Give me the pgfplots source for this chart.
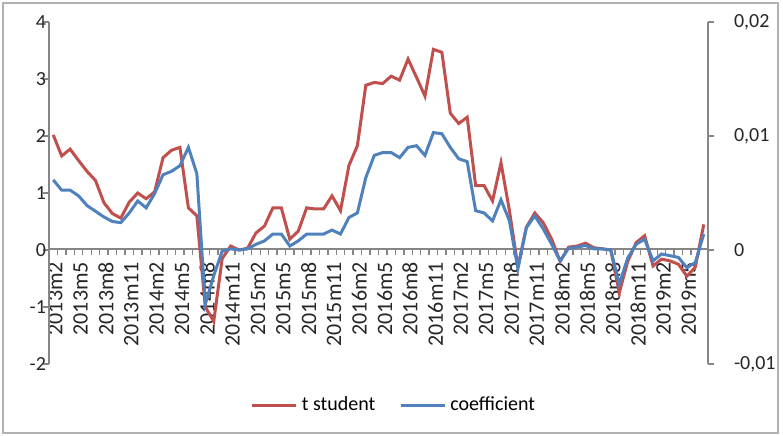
\documentclass[border=0pt]{standalone}
\usepackage{pgfplots}
\usepackage{pgfplotstable}
\pgfplotsset{compat=1.18}
\usepackage{fontspec}
\setmainfont{Carlito}
\definecolor{tred}{RGB}{192,80,77}
\definecolor{cblue}{RGB}{79,129,189}
\definecolor{axgray}{RGB}{134,134,134}

\pgfplotstableread{
idx t coef
0 2.02 0.00615
1 1.65 0.00525
2 1.77 0.00525
3 1.57 0.00475
4 1.38 0.0039
5 1.22 0.0034
6 0.83 0.0029
7 0.64 0.0025
8 0.56 0.0024
9 0.84 0.00325
10 1.00 0.0043
11 0.90 0.0037
12 1.02 0.00495
13 1.62 0.0066
14 1.75 0.0069
15 1.80 0.0074
16 0.74 0.0090
17 0.60 0.0067
18 -1.00 -0.00475
19 -1.25 -0.00225
20 -0.15 -0.0001
21 0.07 0.0001
22 0.00 0.0
23 0.03 0.0001
24 0.30 0.0005
25 0.42 0.0008
26 0.74 0.0014
27 0.74 0.0014
28 0.19 0.00035
29 0.33 0.0008
30 0.74 0.0014
31 0.72 0.0014
32 0.72 0.0014
33 0.95 0.00175
34 0.69 0.0014
35 1.48 0.00285
36 1.83 0.00325
37 2.89 0.00635
38 2.94 0.0083
39 2.92 0.00855
40 3.05 0.00855
41 2.98 0.0081
42 3.35 0.0090
43 3.03 0.00915
44 2.70 0.0083
45 3.52 0.0103
46 3.47 0.0102
47 2.40 0.0090
48 2.22 0.0080
49 2.33 0.00775
50 1.13 0.00345
51 1.13 0.00325
52 0.86 0.00255
53 1.53 0.0044
54 0.69 0.00255
55 -0.30 -0.00165
56 0.40 0.00195
57 0.65 0.0030
58 0.48 0.00185
59 0.19 0.0005
60 -0.20 -0.00095
61 0.05 0.00015
62 0.07 0.00025
63 0.12 0.0004
64 0.04 0.0001
65 0.02 0.0001
66 0.00 0.0
67 -0.75 -0.0030
68 -0.20 -0.0007
69 0.13 0.0005
70 0.25 0.00095
71 -0.28 -0.00095
72 -0.16 -0.00035
73 -0.19 -0.0005
74 -0.25 -0.00065
75 -0.46 -0.00155
76 -0.30 -0.0011
77 0.45 0.0014
}\datatable

\begin{document}
\begin{tikzpicture}[font=\fontsize{9.5}{11}\selectfont]
\useasboundingbox (0,0) rectangle (391.5pt,217.5pt);
\draw[gray!60, line width=0.8pt] (1.5pt,1pt) rectangle (389pt,216pt);
% x axis drawn at y = 0 of the left scale
\begin{axis}[
  at={(24.5pt,93pt)}, anchor=south west,
  scale only axis, width=329.5pt, height=113.5pt,
  xmin=-0.5, xmax=77.5, ymin=0, ymax=1,
  axis x line*=bottom, axis y line=none,
  axis line style={-, draw=axgray, line width=0.7pt},
  tick style={axgray, line width=0.7pt},
  major tick length=3pt, minor tick length=3pt,
  xtick align=outside,
  xtick={0,3,...,75},
  xticklabels={2013m2,2013m5,2013m8,2013m11,2014m2,2014m5,2014m8,2014m11,2015m2,2015m5,2015m8,2015m11,2016m2,2016m5,2016m8,2016m11,2017m2,2017m5,2017m8,2017m11,2018m2,2018m5,2018m8,2018m11,2019m2,2019m5},
  major x tick style={draw=none},
  minor xtick={-0.5,0.5,...,77.5},
  xticklabel style={rotate=90, anchor=east, font=\fontsize{11}{12}\selectfont, text=black!85, yshift=-1pt},
]
\end{axis}
\begin{axis}[
  at={(24.5pt,35.5pt)}, anchor=south west,
  scale only axis, width=329.5pt, height=171pt,
  xmin=-0.5, xmax=77.5, ymin=-2, ymax=4,
  axis x line=none, axis y line*=left,
  axis line style={-, draw=axgray, line width=0.7pt},
  tick style={axgray, line width=0.7pt},
  major tick length=3pt,
  ytick align=outside,
  ytick={-2,-1,0,1,2,3,4},
  yticklabels={-2,-1,0,1,2,3,4},
  yticklabel style={text=black!85, xshift=5pt, font=\fontsize{10}{12}\selectfont},
  legend style={at={(0.525,-0.12)}, anchor=center, draw=none, fill=none,
    legend columns=2, font=\fontsize{10}{12}\selectfont,
    /tikz/every even column/.append style={column sep=10pt}},
  legend image code/.code={\draw[#1] (0pt,0pt) -- (22pt,0pt);},
]
\addplot[tred, line width=1.5pt] table[x=idx, y=t] {\datatable};
\addlegendentry{t student}
\addlegendimage{cblue, line width=1.5pt}
\addlegendentry{coefficient}
\end{axis}
\begin{axis}[
  at={(24.5pt,35.5pt)}, anchor=south west,
  scale only axis, width=329.5pt, height=171pt,
  xmin=-0.5, xmax=77.5, ymin=-0.01, ymax=0.02,
  axis x line=none, axis y line*=right,
  axis line style={-, draw=axgray, line width=0.7pt},
  tick style={axgray, line width=0.7pt},
  major tick length=3pt,
  ytick align=outside,
  scaled y ticks=false,
  ytick={-0.01,0,0.01,0.02},
  yticklabels={{-0,01},{0},{0,01},{0,02}},
  yticklabel style={text=black!85, xshift=6.5pt, font=\fontsize{10}{12}\selectfont},
]
\addplot[cblue, line width=1.5pt] table[x=idx, y=coef] {\datatable};
\end{axis}
\end{tikzpicture}
\end{document}
